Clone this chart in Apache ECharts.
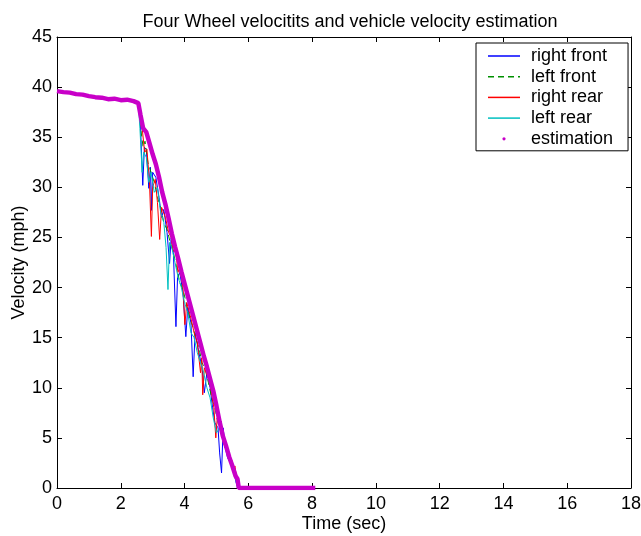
<!DOCTYPE html>
<html>
<head>
<meta charset="utf-8">
<script src="https://cdn.jsdelivr.net/npm/echarts@6/dist/echarts.min.js"></script>
<style>
  html, body { margin: 0; padding: 0; background: #fff; }
  #chart { width: 641px; height: 536px; }
</style>
</head>
<body>
<div id="chart"></div>
<script>
// series names (legend order)
var seriesNames = ['right front', 'left front', 'right rear', 'left rear', 'estimation'];
var seriesColors = ['#0000ff', '#009000', '#ff0000', '#00c0c0', '#c800c8'];

// flat part before braking, shared by all four wheels [time, mph]
var cruise = [[0, 39.6], [0.5, 39.4], [1.0, 39.1], [1.5, 38.9], [2.0, 38.7], [2.3, 38.7], [2.55, 38.4]];

// wheel speeds during ABS braking
var rightFront = [[2.6, 37.5], [2.69, 30.2], [2.74, 34.0], [2.8, 33.8], [2.88, 29.9], [2.93, 32.0], [2.96, 27.7],
  [3.0, 31.5], [3.1, 31.0], [3.2, 29.0], [3.28, 27.0], [3.35, 27.8], [3.45, 25.5], [3.53, 22.4], [3.58, 25.0],
  [3.65, 23.5], [3.73, 16.1], [3.78, 21.0], [3.85, 21.5], [3.95, 19.5], [4.04, 15.1], [4.1, 18.0], [4.2, 16.5],
  [4.27, 11.1], [4.33, 15.5], [4.45, 13.5], [4.55, 12.0], [4.62, 9.5], [4.7, 11.5], [4.8, 10.0], [4.88, 8.0],
  [4.95, 6.5], [5.05, 6.0], [5.1, 3.5], [5.16, 1.5], [5.21, 6.0], [5.28, 4.0], [5.35, 3.0], [5.45, 2.5],
  [5.55, 1.5], [5.62, 0.5], [5.68, 0], [8.0, 0]];

var leftFront = [[2.62, 36.0], [2.7, 34.0], [2.76, 34.6], [2.85, 32.5], [2.95, 31.5], [3.05, 30.5], [3.15, 29.0],
  [3.25, 28.0], [3.35, 26.5], [3.45, 25.8], [3.55, 24.5], [3.65, 23.5], [3.75, 22.0], [3.85, 20.5], [3.95, 19.8],
  [4.05, 18.5], [4.15, 17.0], [4.25, 16.2], [4.35, 15.0], [4.45, 14.0], [4.55, 12.5], [4.65, 11.8], [4.75, 10.5],
  [4.85, 9.0], [4.95, 8.0], [5.05, 6.5], [5.15, 5.5], [5.25, 4.5], [5.35, 3.2], [5.45, 2.5], [5.55, 1.5],
  [5.65, 0.5], [5.7, 0], [8.0, 0]];

var rightRear = [[2.65, 36.5], [2.75, 33.5], [2.82, 33.8], [2.9, 30.5], [2.96, 25.1], [3.0, 30.0], [3.08, 30.8],
  [3.15, 28.5], [3.22, 24.8], [3.28, 28.0], [3.4, 27.0], [3.5, 25.5], [3.58, 25.0], [3.64, 23.6], [3.72, 24.0],
  [3.79, 21.5], [3.85, 22.0], [3.95, 20.0], [4.01, 16.3], [4.07, 18.5], [4.18, 17.2], [4.3, 15.5], [4.4, 14.5],
  [4.5, 11.5], [4.54, 13.0], [4.57, 9.3], [4.62, 12.0], [4.72, 11.2], [4.82, 10.0], [4.92, 8.0], [4.98, 5.0],
  [5.03, 7.2], [5.12, 6.0], [5.22, 4.5], [5.3, 3.8], [5.4, 3.0], [5.48, 2.8], [5.53, 1.8], [5.58, 2.2],
  [5.63, 1.0], [5.7, 0], [8.0, 0]];

var leftRear = [[2.6, 35.9], [2.67, 31.5], [2.72, 33.5], [2.8, 33.0], [2.88, 30.5], [2.95, 31.5], [3.05, 29.5],
  [3.15, 30.0], [3.25, 27.5], [3.35, 26.5], [3.42, 24.0], [3.48, 19.8], [3.53, 24.5], [3.6, 24.0], [3.7, 22.5],
  [3.8, 21.0], [3.9, 20.0], [4.0, 18.5], [4.1, 17.5], [4.2, 15.5], [4.3, 15.0], [4.4, 13.5], [4.5, 12.5],
  [4.6, 11.5], [4.7, 10.0], [4.8, 9.0], [4.9, 7.0], [5.0, 5.5], [5.1, 6.0], [5.2, 4.8], [5.3, 3.8],
  [5.4, 2.8], [5.5, 2.0], [5.6, 1.0], [5.66, 0], [8.0, 0]];

// vehicle velocity estimation
var estimation = [[0, 39.6], [0.2, 39.5], [0.4, 39.45], [0.6, 39.3], [0.8, 39.25], [1.0, 39.1], [1.2, 39.0],
  [1.4, 38.95], [1.6, 38.8], [1.8, 38.85], [2.0, 38.7], [2.2, 38.75], [2.4, 38.6], [2.55, 38.4], [2.62, 37.2],
  [2.7, 35.9], [2.8, 35.5], [2.9, 34.4], [3.0, 33.3], [3.1, 32.3], [3.2, 31.0], [3.3, 29.5], [3.4, 28.3],
  [3.5, 26.9], [3.6, 25.4], [3.7, 24.1], [3.8, 22.9], [3.9, 21.6], [4.0, 20.4], [4.1, 19.2], [4.2, 18.0],
  [4.3, 16.8], [4.4, 15.6], [4.5, 14.4], [4.6, 13.2], [4.7, 12.1], [4.8, 10.9], [4.9, 9.7], [5.0, 8.2],
  [5.1, 6.6], [5.2, 5.2], [5.3, 4.2], [5.4, 3.1], [5.5, 2.2], [5.6, 1.2], [5.66, 0.9], [5.7, 0],
  [6.0, 0], [7.0, 0], [8.1, 0]];

var xTicks = { min: 0, max: 18, interval: 2 };
var yTicks = { min: 0, max: 45, interval: 5 };

var font = "'Liberation Sans', Arial, sans-serif";
var fs = 18;
var chart = echarts.init(document.getElementById('chart'));

function boxAxis(t, pos, showLabel) {
  return {
    type: 'value', position: pos, min: t.min, max: t.max, interval: t.interval,
    axisLine: { show: true, onZero: false, lineStyle: { color: '#000', width: 1 } },
    axisTick: { show: true, inside: true, length: 5, lineStyle: { color: '#000' } },
    axisLabel: { show: showLabel, color: '#000', fontSize: fs, fontFamily: font },
    splitLine: { show: false }
  };
}

var xMain = boxAxis(xTicks, 'bottom', true);
xMain.axisLabel.margin = 7;
xMain.name = 'Time (sec)';
xMain.nameLocation = 'middle';
xMain.nameGap = 27;
xMain.nameMoveOverlap = false;
xMain.nameTextStyle = { color: '#000', fontSize: fs, fontFamily: font };

var yMain = boxAxis(yTicks, 'left', true);
yMain.axisLabel.margin = 5;
yMain.name = 'Velocity (mph)';
yMain.nameLocation = 'middle';
yMain.nameGap = 29;
yMain.nameMoveOverlap = false;
yMain.nameTextStyle = { color: '#000', fontSize: fs, fontFamily: font };

function wheel(i, data, type) {
  return {
    name: seriesNames[i], type: 'line', data: cruise.concat(data), symbol: 'none',
    lineStyle: { color: seriesColors[i], width: 1, type: type || 'solid' },
    itemStyle: { color: seriesColors[i] }, animation: false
  };
}

function legendLine(i, type) {
  return {
    name: seriesNames[i], itemStyle: { opacity: 0 },
    lineStyle: { color: seriesColors[i], width: 1.5, type: type || 'solid', opacity: 1 }
  };
}

var option = {
  backgroundColor: '#fff',
  title: {
    text: 'Four Wheel velocitits and vehicle velocity estimation',
    left: 345, top: 8, textAlign: 'center',
    textStyle: { color: '#000', fontSize: fs, fontWeight: 'normal', fontFamily: font }
  },
  grid: { left: 57, right: 10, top: 37, bottom: 48, outerBoundsMode: 'none', containLabel: false },
  xAxis: [xMain, boxAxis(xTicks, 'top', false)],
  yAxis: [yMain, boxAxis(yTicks, 'right', false)],
  legend: {
    orient: 'vertical', left: 476, top: 43,
    backgroundColor: '#fff', borderColor: '#000', borderWidth: 1,
    padding: [4, 15, 3, 11], itemGap: 2.7, itemWidth: 32, itemHeight: 4,
    textStyle: { color: '#000', fontSize: fs, fontFamily: font, lineHeight: 18, padding: [0, 0, 0, 6] },
    selectedMode: false,
    data: [
      legendLine(0),
      legendLine(1, [6, 4]),
      legendLine(2),
      legendLine(3),
      { name: seriesNames[4], itemStyle: { color: seriesColors[4], opacity: 1 }, lineStyle: { opacity: 0 } }
    ]
  },
  series: [
    wheel(0, rightFront),
    wheel(1, leftFront, [6, 4]),
    wheel(2, rightRear),
    wheel(3, leftRear),
    {
      name: seriesNames[4], type: 'line', data: estimation, symbol: 'none',
      lineStyle: { color: seriesColors[4], width: 4.5 }, itemStyle: { color: seriesColors[4] },
      z: 5, animation: false
    }
  ]
};
chart.setOption(option);
</script>
</body>
</html>
